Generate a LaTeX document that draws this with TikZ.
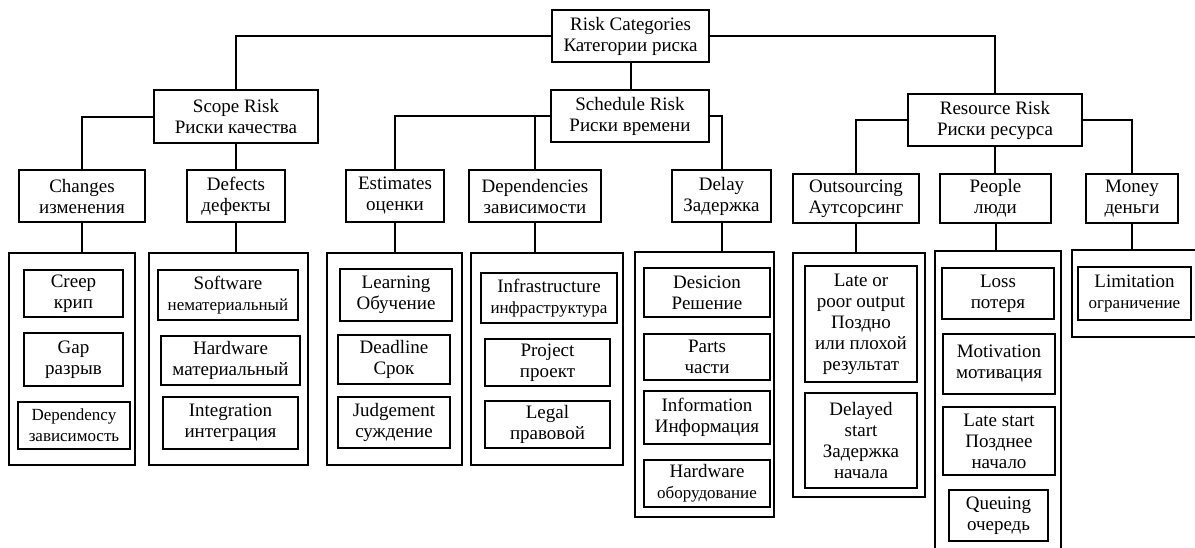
\documentclass[tikz,border=0pt]{standalone}
\usepackage{fontspec}
\setmainfont{Liberation Serif}

\newcommand\sm[1]{{\fontsize{17}{19}\selectfont #1}}

\begin{document}
\begin{tikzpicture}[x=1pt, y=-1pt, font=\fontsize{19}{21}\selectfont,
  box/.style={draw, line width=1.5pt, align=center, inner sep=0pt},
  group/.style={draw, line width=2pt, inner sep=0pt},
  wh/.style 2 args={minimum width=#1pt, minimum height=#2pt},
  link/.style={line width=2pt}]
\useasboundingbox (0,0) rectangle (1195,547);
\clip (0,0) rectangle (1195,547);

% top levels
\node[box, wh={157}{52}] (cat) at (630.5,36) {Risk Categories\\Категории риска};
\node[box, wh={164}{53}] (scope) at (236,116.5) {Scope Risk\\Риски качества};
\node[box, wh={158}{52}] (sched) at (630,116) {Schedule Risk\\Риски времени};
\node[box, wh={174}{52}] (res) at (995,120) {Resource Risk\\Риски ресурса};

% second level
\node[box, wh={126}{52}] (chg) at (82,196) {Changes\\изменения};
\node[box, wh={98}{52}] (def) at (236,196) {Defects\\дефекты};
\node[box, wh={98}{52}] (est) at (395,196) {Estimates\\оценки};
\node[box, wh={132}{52}] (dep) at (535,196) {Dependencies\\зависимости};
\node[box, wh={99}{52}] (dly) at (721.5,196) {Delay\\Задержка};
\node[box, wh={126}{49}] (out) at (856,198.5) {Outsourcing\\Аутсорсинг};
\node[box, wh={111}{49}] (ppl) at (995.5,198.5) {People\\люди};
\node[box, wh={92}{49}] (mon) at (1132,198.5) {Money\\деньги};

% groups
\node[group, wh={126}{212}] (chgG) at (72,359) {};
\node[group, wh={159}{212}] (defG) at (228.5,359) {};
\node[group, wh={135}{212}] (estG) at (394.5,359) {};
\node[group, wh={152}{212}] (depG) at (547,359) {};
\node[group, wh={139}{265}] (dlyG) at (704.5,384.5) {};
\node[group, wh={132}{244}] (outG) at (859,375) {};
\node[group, wh={126}{309}] (pplG) at (998,405.5) {};
\node[group, wh={133}{87}] (monG) at (1138.5,293.5) {};

% items
\node[box, wh={99}{47}] (creep) at (73.5,293.5) {Creep\\крип};
\node[box, wh={99}{53}] (gap) at (73.5,359.5) {Gap\\разрыв};
\node[box, wh={112}{47}] (depy) at (74,425.5) {\sm{Dependency}\\\sm{зависимость}};

\node[box, wh={140}{50}] (soft) at (228,295) {Software\\\sm{нематериальный}};
\node[box, wh={139}{49}] (hard) at (230.5,360.5) {Hardware\\материальный};
\node[box, wh={135}{52}] (integ) at (230.5,423) {Integration\\интеграция};

\node[box, wh={112}{52}] (learn) at (396,295) {Learning\\Обучение};
\node[box, wh={112}{49}] (dead) at (394,359.5) {Deadline\\Срок};
\node[box, wh={112}{51}] (judge) at (394,422.5) {Judgement\\суждение};

\node[box, wh={136}{50}] (infra) at (549,298) {Infrastructure\\\sm{инфраструктура}};
\node[box, wh={125}{47}] (proj) at (547.5,362.5) {Project\\проект};
\node[box, wh={125}{47}] (legal) at (547.5,424.5) {Legal\\правовой};

\node[box, wh={126}{49}] (desic) at (707,292.5) {Desicion\\Решение};
\node[box, wh={126}{46}] (parts) at (707,357) {Parts\\части};
\node[box, wh={126}{53}] (info) at (707,417.5) {Information\\Информация};
\node[box, wh={126}{47}] (hardw) at (707,483.5) {Hardware\\\sm{оборудование}};

\node[box, wh={112}{116}] (late) at (861,324) {Late or\\poor output\\Поздно\\или плохой\\результат};
\node[box, wh={112}{95}] (delayed) at (861,440.5) {Delayed\\start\\Задержка\\начала};

\node[box, wh={112}{51}] (loss) at (998,293.5) {Loss\\потеря};
\node[box, wh={112}{60}] (motiv) at (999,364) {Motivation\\мотивация};
\node[box, wh={112}{68}] (lstart) at (999,441) {Late start\\Позднее\\начало};
\node[box, wh={99}{51}] (queue) at (998.5,515.5) {Queuing\\очередь};

\node[box, wh={113}{53}] (limit) at (1134.5,293.5) {Limitation\\\sm{ограничение}};

% links
\draw[link] (cat.west) -| (scope.north);
\draw[link] (cat.east) -| (res.north);
\draw[link] (cat.south) -- (cat.south |- sched.north);
\draw[link] (scope.west) -| (chg.north);
\draw[link] (scope.south) -- (def.north);
\draw[link] (sched.west) -| (est.north);
\draw[link] (sched.west) -| (dep.north);
\draw[link] (sched.east) -| (dly.north);
\draw[link] (res.west) -| (out.north);
\draw[link] (res.south) -- (res.south |- ppl.north);
\draw[link] (res.east) -| (mon.north);

\draw[link] (chg.south) -- (chg.south |- chgG.north);
\draw[link] (def.south) -- (def.south |- defG.north);
\draw[link] (est.south) -- (est.south |- estG.north);
\draw[link] (dep.south) -- (dep.south |- depG.north);
\draw[link] (dly.south) -- (dly.south |- dlyG.north);
\draw[link] (out.south) -- (out.south |- outG.north);
\draw[link] (ppl.south) -- (ppl.south |- pplG.north);
\draw[link] (mon.south) -- (mon.south |- monG.north);
\end{tikzpicture}
\end{document}
